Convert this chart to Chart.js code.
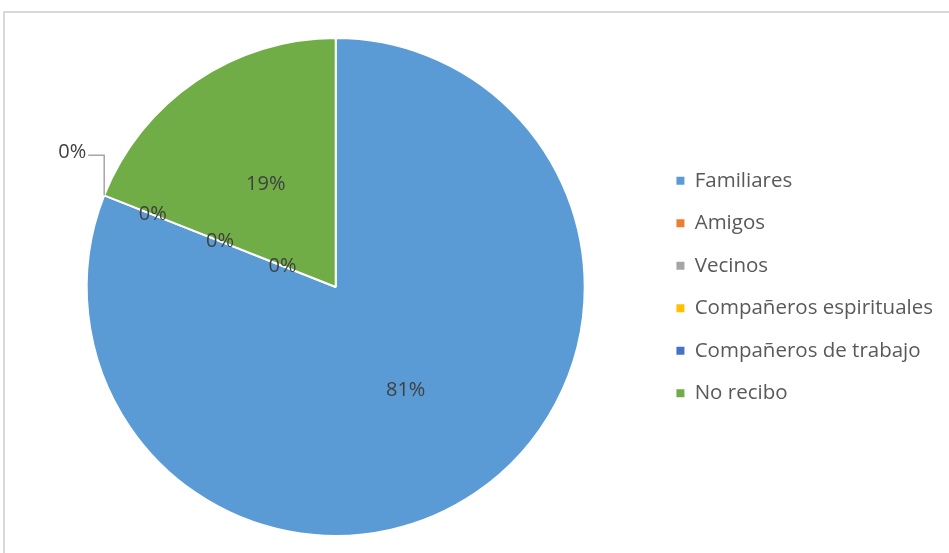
<!DOCTYPE html>
<html>
<head>
<meta charset="utf-8">
<title>Apoyo recibido</title>
<script src="https://cdn.jsdelivr.net/npm/chart.js@4"></script>
<style>
    body { margin: 0; background: #fff; }
    #wrap { position: relative; width: 949px; height: 553px; }
    #frame {
        position: absolute; left: 3px; top: 11px; right: 0; bottom: 0;
        border-top: 2px solid #d9d9d9; border-left: 2px solid #d9d9d9;
    }
    canvas { position: absolute; left: 0; top: 0; }
</style>
</head>
<body>
<div id="wrap">
    <div id="frame"></div>
    <canvas id="myChart" width="949" height="553"></canvas>
</div>
<script>
const categories = ["Familiares", "Amigos", "Vecinos", "Compañeros espirituales", "Compañeros de trabajo", "No recibo"];
const percentages = [81, 0, 0, 0, 0, 19];
const colors = ["#5b9bd5", "#ed7d31", "#a5a5a5", "#ffc000", "#4472c4", "#70ad47"];

const FONT = "'Open Sans', 'Liberation Sans', sans-serif";

// percentage labels; the zero slices sit on the same edge so they are
// spread out along it, one is pulled outside with a leader line
const pieLabels = {
    id: "pieLabels",
    afterDatasetsDraw(chart, args, opts) {
        const ctx = chart.ctx;
        const meta = chart.getDatasetMeta(0);
        const values = chart.data.datasets[0].data;
        ctx.save();
        ctx.font = "20px " + FONT;
        ctx.fillStyle = "#404040";
        ctx.textBaseline = "middle";
        meta.data.forEach((arc, i) => {
            const p = arc.getProps(["x", "y", "startAngle", "endAngle", "outerRadius"], true);
            const mid = (p.startAngle + p.endAngle) / 2;
            const text = values[i] + "%";
            const f = opts.radius[i];
            if (f === "out") {
                const ex = p.x + Math.cos(mid) * p.outerRadius;
                const ey = p.y + Math.sin(mid) * p.outerRadius;
                const ky = ey - 40;
                ctx.strokeStyle = "#a6a6a6";
                ctx.lineWidth = 1.5;
                ctx.beginPath();
                ctx.moveTo(ex, ey);
                ctx.lineTo(ex, ky);
                ctx.lineTo(ex - 16, ky);
                ctx.stroke();
                ctx.textAlign = "right";
                ctx.fillText(text, ex - 18, ky - 3);
            } else {
                ctx.textAlign = "center";
                ctx.fillText(text,
                    p.x + Math.cos(mid) * p.outerRadius * f,
                    p.y + Math.sin(mid) * p.outerRadius * f);
            }
        });
        ctx.restore();
    }
};

const ctx = document.getElementById("myChart").getContext("2d");
const myChart = new Chart(ctx, {
    type: "pie",
    data: {
        labels: categories,
        datasets: [
            {
                data: percentages,
                backgroundColor: colors,
                borderColor: "#ffffff",
                borderWidth: 2
            }
        ]
    },
    options: {
        responsive: false,
        animation: false,
        layout: { padding: { left: 17, right: 6, top: 37, bottom: 16 } },
        plugins: {
            tooltip: { enabled: false },
            legend: {
                position: "right",
                labels: {
                    font: { family: FONT, size: 20.5 },
                    color: "#595959",
                    boxWidth: 8,
                    boxHeight: 8,
                    padding: 22,
                    generateLabels(chart) {
                        const items = Chart.overrides.pie.plugins.legend.labels.generateLabels(chart);
                        items.forEach(it => { it.lineWidth = 0; });
                        return items;
                    }
                }
            },
            pieLabels: { radius: [0.5, 0.23, 0.5, 0.79, "out", 0.5] }
        }
    },
    plugins: [pieLabels]
});
</script>
</body>
</html>
